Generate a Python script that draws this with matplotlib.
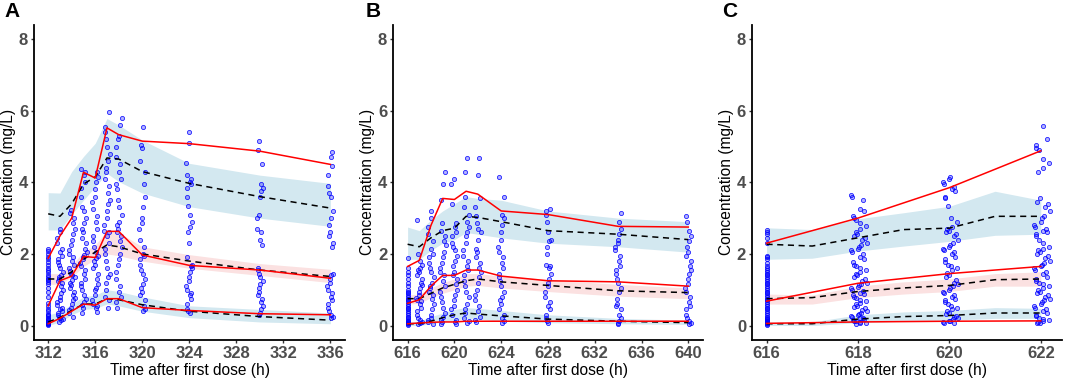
import numpy as np
import matplotlib
matplotlib.use("Agg")
import matplotlib.pyplot as plt

plt.rcParams['font.family'] = ['Liberation Sans', 'DejaVu Sans']

# ---- panel A: 312-336 h ----
a_t = [312, 313, 314, 315, 316, 317, 318, 320, 324, 330, 336]
a_obs_hi = [1.88, 2.5, 3.0, 4.28, 4.12, 5.52, 5.33, 5.15, 5.08, 4.87, 4.5]
a_obs_md = [0.55, 1.25, 1.38, 1.93, 1.9, 2.63, 2.63, 1.97, 1.68, 1.55, 1.32]
a_obs_lo = [0.05, 0.2, 0.4, 0.6, 0.57, 0.75, 0.75, 0.5, 0.42, 0.33, 0.3]
a_pred_hi = [3.12, 3.05, 3.4, 3.95, 4.15, 4.68, 4.65, 4.3, 3.97, 3.6, 3.28]
a_pred_md = [1.3, 1.3, 1.5, 1.85, 2.05, 2.25, 2.2, 2.0, 1.8, 1.55, 1.37]
a_pred_lo = [0.1, 0.22, 0.42, 0.6, 0.6, 0.75, 0.72, 0.58, 0.4, 0.25, 0.15]
a_ci_hi = [(2.67, 3.71), (2.67, 3.7), (3.1, 4.3), (3.5, 4.72), (3.88, 5.09), (4.25, 5.78),
           (4.02, 5.6), (3.7, 5.18), (3.32, 4.53), (3.0, 4.2), (2.77, 3.97)]
a_ci_md = [(1.15, 1.45), (1.15, 1.45), (1.35, 1.7), (1.65, 2.05), (1.85, 2.25), (2.0, 2.65),
           (1.95, 2.6), (1.8, 2.2), (1.6, 1.98), (1.4, 1.73), (1.2, 1.57)]
a_ci_lo = [(0.0, 0.3), (0.1, 0.38), (0.3, 0.6), (0.45, 0.8), (0.48, 0.85), (0.6, 1.0),
           (0.55, 0.95), (0.4, 0.8), (0.22, 0.55), (0.1, 0.45), (0.05, 0.35)]
a_pts = [
    [0.02, 0.04, 0.05, 0.07, 0.08, 0.1, 0.12, 0.15, 0.18, 0.22, 0.28, 0.3, 0.33, 0.4, 0.45, 0.55,
     0.62, 0.8, 0.95, 1.05, 1.15, 1.22, 1.28, 1.3, 1.35, 1.42, 1.5, 1.55, 1.62, 1.7, 1.78, 1.85,
     1.92, 2.0, 2.08, 2.15],
    [0.1, 0.15, 0.18, 0.22, 0.25, 0.3, 0.35, 0.4, 0.45, 0.5, 0.58, 0.65, 0.72, 0.8, 0.9, 1.0, 1.1,
     1.18, 1.25, 1.3, 1.35, 1.42, 1.5, 1.6, 1.7, 1.78, 1.85, 1.95, 2.05, 2.15, 2.3, 2.45, 2.6, 2.7],
    [0.25, 0.35, 0.42, 0.5, 0.6, 0.7, 0.78, 0.85, 0.95, 1.05, 1.12, 1.2, 1.28, 1.35, 1.4, 1.45,
     1.52, 1.6, 1.7, 1.8, 1.9, 2.0, 2.1, 2.25, 2.4, 2.55, 2.7, 2.85, 3.0, 3.15, 3.22],
    [0.35, 0.5, 0.58, 0.65, 0.75, 0.85, 1.0, 1.1, 1.2, 1.3, 1.45, 1.55, 1.65, 1.75, 1.85, 1.92,
     1.98, 2.05, 2.15, 2.3, 2.45, 2.6, 2.7, 2.85, 3.0, 3.2, 3.3, 3.6, 3.85, 4.0, 4.2, 4.3, 4.37],
    [0.38, 0.5, 0.55, 0.6, 0.7, 0.85, 1.0, 1.05, 1.15, 1.3, 1.45, 1.6, 1.7, 1.8, 1.88, 1.95, 2.05,
     2.2, 2.35, 2.5, 2.7, 2.9, 3.05, 3.25, 3.45, 3.6, 3.8, 4.0, 4.15, 4.3],
    [0.5, 0.72, 0.8, 1.0, 1.2, 1.35, 1.45, 1.6, 1.8, 2.0, 2.15, 2.3, 2.5, 2.6, 2.65, 2.8, 3.0, 3.2,
     3.4, 3.5, 3.7, 3.9, 4.1, 4.3, 4.4, 4.6, 4.8, 5.0, 5.2, 5.4, 5.55, 5.95],
    [0.5, 0.65, 0.8, 0.95, 1.1, 1.3, 1.5, 1.7, 1.85, 2.0, 2.2, 2.35, 2.5, 2.6, 2.7, 2.8, 2.9, 3.1,
     3.3, 3.5, 3.8, 3.95, 4.1, 4.3, 4.5, 4.7, 5.0, 5.2, 5.3, 5.6, 5.8],
    [0.4, 0.45, 0.55, 0.7, 0.85, 0.95, 1.05, 1.15, 1.3, 1.45, 1.55, 1.7, 1.85, 1.95, 2.0, 2.2, 2.4,
     2.7, 2.85, 3.0, 3.3, 3.6, 3.95, 4.3, 4.6, 4.95, 5.05, 5.55],
    [0.35, 0.4, 0.45, 0.6, 0.75, 0.85, 0.9, 1.0, 1.1, 1.25, 1.35, 1.5, 1.6, 1.65, 1.7, 1.9, 2.3,
     2.6, 2.75, 2.9, 3.1, 3.35, 3.6, 3.85, 3.95, 4.0, 4.1, 4.2, 4.55, 5.1, 5.4],
    [0.3, 0.35, 0.45, 0.55, 0.65, 0.75, 0.85, 0.95, 1.05, 1.15, 1.25, 1.35, 1.45, 1.55, 1.6, 2.25,
     2.4, 2.6, 2.7, 3.0, 3.1, 3.6, 3.75, 3.85, 3.95, 4.5, 4.9, 5.15],
    [0.2, 0.25, 0.3, 0.4, 0.5, 0.6, 0.7, 0.8, 0.9, 1.0, 1.1, 1.2, 1.3, 1.4, 1.45, 2.2, 2.3, 2.5,
     2.6, 2.8, 3.0, 3.2, 3.6, 3.7, 3.9, 4.2, 4.45, 4.7, 4.85],
]

# ---- panel B: 616-640 h ----
b_t = [616, 617, 618, 619, 620, 621, 622, 624, 628, 634, 640]
b_obs_hi = [1.65, 1.82, 2.8, 3.55, 3.52, 3.75, 3.67, 3.2, 3.1, 2.77, 2.75]
b_obs_md = [0.62, 0.72, 1.1, 1.4, 1.4, 1.55, 1.55, 1.38, 1.25, 1.22, 1.1]
b_obs_lo = [0.05, 0.07, 0.09, 0.1, 0.1, 0.12, 0.12, 0.12, 0.12, 0.12, 0.12]
b_pred_hi = [2.27, 2.2, 2.45, 2.65, 2.72, 3.05, 3.02, 2.9, 2.65, 2.55, 2.4]
b_pred_md = [0.75, 0.75, 0.9, 1.05, 1.15, 1.25, 1.3, 1.22, 1.12, 0.97, 0.92]
b_pred_lo = [0.05, 0.05, 0.12, 0.22, 0.3, 0.35, 0.32, 0.27, 0.18, 0.12, 0.08]
b_ci_hi = [(1.85, 2.75), (1.85, 2.65), (2.1, 2.95), (2.3, 3.2), (2.4, 3.4), (2.6, 3.6),
           (2.55, 3.55), (2.45, 3.5), (2.3, 3.2), (2.2, 3.0), (2.05, 2.9)]
b_ci_md = [(0.6, 0.85), (0.62, 0.88), (0.78, 1.05), (0.9, 1.2), (1.0, 1.3), (1.1, 1.45),
           (1.12, 1.45), (1.05, 1.38), (0.95, 1.28), (0.82, 1.15), (0.75, 1.05)]
b_ci_lo = [(0.0, 0.1), (0.0, 0.12), (0.05, 0.25), (0.1, 0.35), (0.15, 0.45), (0.2, 0.5),
           (0.18, 0.48), (0.12, 0.42), (0.08, 0.3), (0.05, 0.2), (0.03, 0.15)]
b_pts = [
    [0.02, 0.04, 0.06, 0.08, 0.1, 0.12, 0.15, 0.2, 0.25, 0.3, 0.35, 0.4, 0.45, 0.5, 0.55, 0.6,
     0.65, 0.7, 0.75, 0.8, 0.85, 0.9, 0.95, 1.0, 1.1, 1.2, 1.3, 1.4, 1.5, 1.6, 1.88],
    [0.05, 0.08, 0.1, 0.15, 0.2, 0.3, 0.4, 0.5, 0.6, 0.68, 0.72, 0.78, 0.85, 0.95, 1.05, 1.12,
     1.2, 1.3, 1.4, 1.5, 1.55, 1.6, 1.7, 1.8, 2.0, 2.95],
    [0.05, 0.1, 0.15, 0.2, 0.3, 0.45, 0.6, 0.75, 0.85, 0.95, 1.05, 1.1, 1.2, 1.35, 1.5, 1.6, 1.75,
     1.9, 2.0, 2.15, 2.35, 2.55, 2.75, 3.0, 3.2],
    [0.05, 0.1, 0.15, 0.25, 0.35, 0.5, 0.65, 0.8, 0.95, 1.1, 1.25, 1.4, 1.5, 1.6, 1.75, 1.9, 2.05,
     2.25, 2.35, 2.5, 2.65, 2.85, 3.5, 3.95, 4.28],
    [0.05, 0.1, 0.15, 0.3, 0.45, 0.55, 0.7, 0.85, 1.0, 1.15, 1.3, 1.4, 1.5, 1.65, 1.8, 1.95, 2.1,
     2.2, 2.3, 2.5, 2.6, 2.75, 2.85, 3.4, 3.95, 4.1],
    [0.08, 0.12, 0.2, 0.35, 0.45, 0.6, 0.8, 0.95, 1.1, 1.25, 1.4, 1.55, 1.65, 1.8, 1.95, 2.1, 2.3,
     2.5, 2.6, 2.75, 2.9, 3.1, 3.3, 3.6, 4.3, 4.68],
    [0.1, 0.15, 0.25, 0.4, 0.55, 0.7, 0.85, 1.0, 1.2, 1.35, 1.5, 1.6, 1.75, 1.9, 2.05, 2.15, 2.4,
     2.6, 2.7, 2.85, 3.05, 3.3, 3.55, 4.2, 4.68],
    [0.08, 0.12, 0.2, 0.3, 0.45, 0.6, 0.7, 0.8, 0.95, 1.1, 1.25, 1.35, 1.45, 1.6, 1.75, 1.9, 2.05,
     2.2, 2.4, 2.6, 2.8, 3.0, 3.1, 3.6, 4.15],
    [0.08, 0.12, 0.2, 0.3, 0.45, 0.55, 0.65, 0.8, 0.95, 1.1, 1.2, 1.3, 1.45, 1.6, 1.65, 1.7, 2.0,
     2.2, 2.35, 2.4, 2.6, 2.9, 3.1, 3.2, 3.25],
    [0.05, 0.08, 0.12, 0.2, 0.3, 0.45, 0.55, 0.6, 0.75, 0.95, 1.05, 1.2, 1.3, 1.45, 1.55, 1.65,
     1.8, 1.95, 2.1, 2.2, 2.3, 2.4, 2.55, 2.7, 2.9, 3.15],
    [0.05, 0.08, 0.12, 0.2, 0.3, 0.45, 0.55, 0.65, 0.8, 0.95, 1.05, 1.15, 1.3, 1.45, 1.55, 1.65,
     1.8, 1.95, 2.05, 2.2, 2.35, 2.5, 2.65, 2.9, 3.05],
]

# ---- panel C: 616-622 h ----
c_t_obs = [616, 618, 620, 622]
c_obs_hi = [2.3, 3.0, 3.85, 4.88]
c_obs_md = [0.68, 1.18, 1.45, 1.65]
c_obs_lo = [0.06, 0.1, 0.12, 0.13]
c_t = [616, 617, 618, 619, 620, 621, 622]
c_pred_hi = [2.27, 2.22, 2.45, 2.68, 2.72, 3.05, 3.05]
c_pred_md = [0.75, 0.78, 0.95, 1.05, 1.12, 1.28, 1.3]
c_pred_lo = [0.05, 0.05, 0.18, 0.25, 0.28, 0.35, 0.35]
c_ci_hi = [(1.85, 2.73), (1.88, 2.68), (2.08, 2.98), (2.22, 3.15), (2.35, 3.33), (2.52, 3.75),
           (2.55, 3.5)]
c_ci_md = [(0.6, 0.88), (0.6, 0.85), (0.78, 1.1), (0.88, 1.22), (0.95, 1.3), (1.1, 1.45),
           (1.1, 1.5)]
c_ci_lo = [(0.0, 0.1), (0.0, 0.1), (0.08, 0.3), (0.12, 0.38), (0.15, 0.42), (0.2, 0.5),
           (0.2, 0.48)]
c_pts = [
    [0.02, 0.04, 0.06, 0.08, 0.1, 0.12, 0.15, 0.18, 0.2, 0.25, 0.3, 0.35, 0.4, 0.45, 0.5, 0.55,
     0.6, 0.65, 0.7, 0.75, 0.8, 0.85, 0.9, 0.95, 1.0, 1.05, 1.1, 1.15, 1.2, 1.25, 1.3, 1.35, 1.4,
     1.45, 1.5, 1.55, 1.6, 1.65, 1.75, 1.85, 1.9, 1.95, 2.3, 2.45, 2.55, 2.62, 2.68],
    [0.05, 0.07, 0.08, 0.1, 0.12, 0.14, 0.16, 0.18, 0.2, 0.22, 0.25, 0.28, 0.3, 0.33, 0.36, 0.4,
     0.44, 0.48, 0.52, 0.55, 0.6, 0.64, 0.68, 0.72, 0.76, 0.8, 0.84, 0.88, 0.92, 0.96, 1.0, 1.04,
     1.08, 1.12, 1.16, 1.2, 1.25, 1.3, 1.35, 1.4, 1.45, 1.5, 1.55, 1.6, 1.65, 1.7, 1.78, 1.85,
     1.92, 2.0, 2.05, 2.1, 2.15, 2.2, 2.25, 2.3, 2.38, 2.45, 2.5, 2.55, 2.62, 2.7, 2.78, 2.85,
     2.95, 3.0, 3.05, 3.2, 3.25, 3.5, 3.58, 3.65],
    [0.06, 0.08, 0.1, 0.12, 0.14, 0.17, 0.2, 0.24, 0.28, 0.32, 0.36, 0.4, 0.45, 0.5, 0.55, 0.6,
     0.65, 0.7, 0.75, 0.8, 0.85, 0.9, 0.95, 1.0, 1.05, 1.1, 1.15, 1.2, 1.28, 1.35, 1.42, 1.48,
     1.55, 1.6, 1.65, 1.7, 1.78, 1.85, 1.92, 2.0, 2.05, 2.1, 2.15, 2.2, 2.25, 2.3, 2.4, 2.5,
     2.55, 2.6, 2.65, 2.7, 2.75, 2.9, 3.0, 3.35, 3.55, 3.6, 3.75, 3.82, 3.88, 3.95, 4.02, 4.1,
     4.15],
    [0.06, 0.08, 0.1, 0.12, 0.15, 0.18, 0.22, 0.26, 0.3, 0.35, 0.4, 0.45, 0.5, 0.55, 0.6, 0.65,
     0.7, 0.75, 0.8, 0.85, 0.9, 0.95, 1.0, 1.05, 1.1, 1.15, 1.2, 1.25, 1.3, 1.35, 1.45, 1.5, 1.55,
     1.6, 1.65, 1.7, 1.75, 1.8, 1.88, 1.95, 2.0, 2.05, 2.1, 2.15, 2.2, 2.3, 2.4, 2.5, 2.55, 2.6,
     2.65, 2.7, 2.75, 2.8, 2.9, 3.0, 3.05, 3.2, 3.3, 3.4, 3.45, 3.55, 4.3, 4.4, 4.55, 4.65, 4.9,
     4.95, 5.05, 5.2, 5.58],
]

# fixed horizontal spread pattern for the sampling times (fraction of half-width)
SPREAD = [-0.9, 0.3, 0.75, -0.4, 0.1, -0.7, 0.5, -0.1, 0.95, -0.55, 0.2, -0.3, 0.6, -0.8, 0.0,
          0.4, -0.2, 0.85, -0.65, 0.15]

BLUE_BAND = '#d3e8f0'
PINK_BAND = '#fbe1e1'
GREY = '#4d4d4d'


def panel(ax, t, ci_lo, ci_md, ci_hi, pred, t_obs, obs, pts, half, shift, xlim, ticks):
    for ci, col in ((ci_hi, BLUE_BAND), (ci_md, PINK_BAND), (ci_lo, BLUE_BAND)):
        lo = [c[0] for c in ci]
        hi = [c[1] for c in ci]
        ax.fill_between(t, lo, hi, color=col, lw=0, zorder=1)
    for i, (tt, ys) in enumerate(zip(t_obs, pts)):
        if i == 0:
            xs = [tt] * len(ys)
        else:
            xs = [tt + shift + half * SPREAD[(k * 7 + i * 3) % len(SPREAD)] for k in range(len(ys))]
        ax.scatter(xs, ys, s=9, facecolor=(0, 0, 1, 0.3), edgecolor=(0, 0, 1, 0.85),
                   linewidth=0.6, zorder=2)
    for p in pred:
        ax.plot(t, p, color='black', lw=1.1, ls=(0, (4, 3)), zorder=3)
    for o in obs:
        ax.plot(t_obs, o, color='red', lw=1.1, zorder=4)
    ax.set_xlim(*xlim)
    ax.set_ylim(-0.4, 8.4)
    ax.set_xticks(ticks)
    ax.set_yticks([0, 2, 4, 6, 8])
    for s in ('top', 'right'):
        ax.spines[s].set_visible(False)
    for s in ('left', 'bottom'):
        ax.spines[s].set_linewidth(1.3)
    ax.tick_params(length=2.2, width=1.0, pad=2, color='#333333', labelcolor=GREY, labelsize=12)
    for lab in ax.get_xticklabels() + ax.get_yticklabels():
        lab.set_fontweight('bold')
    ax.set_xlabel('Time after first dose (h)', fontsize=11.2, labelpad=2)
    ax.set_ylabel('Concentration (mg/L)', fontsize=11.2, labelpad=2)


fig = plt.figure(figsize=(10.65, 3.81), dpi=100)
axA = fig.add_axes([0.032, 0.108, 0.292, 0.827])
axB = fig.add_axes([0.369, 0.108, 0.291, 0.827])
axC = fig.add_axes([0.706, 0.108, 0.291, 0.827])

panel(axA, a_t, a_ci_lo, a_ci_md, a_ci_hi, [a_pred_lo, a_pred_md, a_pred_hi],
      a_t, [a_obs_lo, a_obs_md, a_obs_hi], a_pts, 0.28, 0.0, (310.8, 337.25),
      [312, 316, 320, 324, 328, 332, 336])
panel(axB, b_t, b_ci_lo, b_ci_md, b_ci_hi, [b_pred_lo, b_pred_md, b_pred_hi],
      b_t, [b_obs_lo, b_obs_md, b_obs_hi], b_pts, 0.28, 0.0, (614.75, 641.25),
      [616, 620, 624, 628, 632, 636, 640])
panel(axC, c_t, c_ci_lo, c_ci_md, c_ci_hi, [c_pred_lo, c_pred_md, c_pred_hi],
      c_t_obs, [c_obs_lo, c_obs_md, c_obs_hi], c_pts, 0.18, 0.02, (615.68, 622.46),
      [616, 618, 620, 622])

for x, lab in ((0.004, 'A'), (0.343, 'B'), (0.678, 'C')):
    fig.text(x, 0.995, lab, fontsize=15, fontweight='bold', va='top', ha='left')

fig.savefig('out.png', dpi=100)
